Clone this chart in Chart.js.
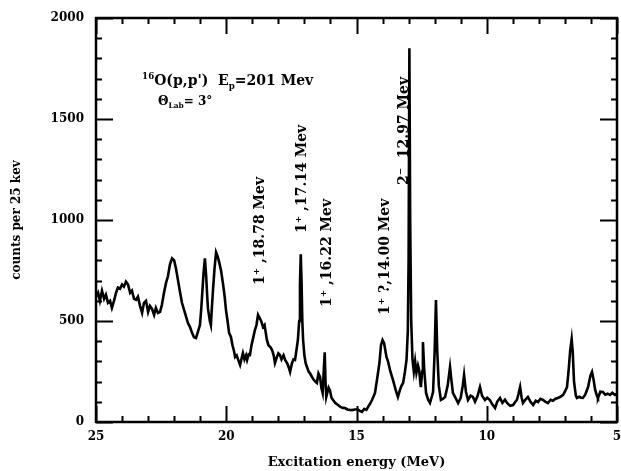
<!DOCTYPE html>
<html>
<head>
<meta charset="utf-8">
<script src="https://cdn.jsdelivr.net/npm/chart.js@4/dist/chart.umd.min.js"></script>
<style>
  html, body { margin: 0; padding: 0; background: #fff; }
  canvas { display: block; }
</style>
</head>
<body>
<canvas id="spec" width="621" height="471"></canvas>
<script>
// 16O(p,p') excitation spectrum, counts per 25 keV bin
const energies = [
  25.00,24.92,24.85,24.77,24.69,24.62,24.54,24.46,24.39,24.31,24.23,24.16,24.08,24.00,23.93,23.85,23.77,23.69,23.62,23.54,
  23.46,23.39,23.31,23.23,23.16,23.08,23.00,22.93,22.85,22.77,22.70,22.62,22.54,22.47,22.39,22.31,22.24,22.16,22.08,22.00,
  21.93,21.85,21.77,21.70,21.62,21.54,21.47,21.39,21.31,21.24,21.16,21.08,21.01,20.96,20.93,20.87,20.82,20.77,20.73,20.70,
  20.63,20.59,20.55,20.51,20.45,20.39,20.33,20.27,20.20,20.12,20.06,20.01,19.95,19.89,19.82,19.76,19.70,19.66,19.60,19.52,
  19.47,19.40,19.36,19.30,19.24,19.20,19.14,19.09,19.03,18.96,18.90,18.84,18.78,18.72,18.66,18.59,18.53,18.44,18.38,18.30,
  18.24,18.18,18.13,18.06,18.00,17.94,17.88,17.80,17.74,17.66,17.60,17.55,17.48,17.42,17.36,17.30,17.25,17.20,17.17,17.14,
  17.11,17.08,17.05,17.00,16.95,16.90,16.84,16.78,16.71,16.65,16.58,16.52,16.46,16.40,16.35,16.30,16.26,16.22,16.19,16.16,
  16.13,16.07,16.02,15.96,15.90,15.82,15.71,15.62,15.52,15.44,15.35,15.25,15.17,15.07,14.95,14.87,14.79,14.70,14.62,14.56,
  14.48,14.40,14.29,14.20,14.12,14.06,14.00,13.94,13.85,13.79,13.70,13.60,13.50,13.41,13.33,13.27,13.21,13.14,13.08,13.03,
  13.00,12.97,12.94,12.90,12.85,12.80,12.75,12.70,12.64,12.60,12.53,12.48,12.45,12.40,12.33,12.25,12.18,12.10,12.06,12.00,
  11.95,11.90,11.84,11.76,11.68,11.60,11.50,11.41,11.35,11.30,11.20,11.10,11.00,10.92,10.87,10.80,10.72,10.62,10.53,10.45,
  10.35,10.26,10.18,10.07,9.98,9.88,9.80,9.68,9.60,9.49,9.40,9.30,9.22,9.10,8.99,8.90,8.84,8.78,8.72,8.66,
  8.61,8.52,8.42,8.32,8.22,8.12,8.03,7.94,7.84,7.74,7.65,7.55,7.46,7.36,7.27,7.17,7.07,7.00,6.92,6.86,
  6.80,6.74,6.70,6.65,6.58,6.54,6.45,6.38,6.31,6.22,6.11,6.02,5.96,5.90,5.84,5.76,5.73,5.64,5.54,5.45,
  5.36,5.27,5.18,5.08,5.00
];
const counts = [
  620,640,600,650,610,630,590,600,565,600,640,665,660,680,670,695,680,640,650,610,
  605,620,575,540,590,600,545,575,560,530,565,540,545,580,640,690,720,780,810,800,
  760,700,640,590,555,520,490,470,440,420,416,450,480,560,620,740,810,720,620,560,
  500,480,570,650,760,840,820,790,750,680,620,554,500,440,421,380,350,322,330,300,
  282,320,341,310,330,307,335,332,380,420,455,480,530,515,500,470,480,406,380,370,
  356,330,292,320,340,332,310,330,307,290,270,248,290,310,307,360,406,500,680,830,
  700,500,406,330,290,272,250,240,223,210,200,193,240,223,170,144,250,345,200,124,
  140,170,158,120,109,95,84,75,70,69,62,60,59,62,62,55,50,65,60,74,
  90,110,144,220,292,380,406,390,322,300,250,208,160,124,160,180,193,250,307,450,
  800,1850,1000,500,307,250,300,243,280,260,173,250,396,260,144,110,94,130,150,350,
  604,350,180,109,115,124,180,272,200,144,120,94,120,180,233,150,109,130,124,100,
  130,173,130,109,120,109,90,69,100,119,95,110,94,80,84,100,110,140,173,120,
  94,110,124,100,84,105,99,115,109,100,94,110,105,115,119,125,134,150,173,250,
  350,410,350,200,130,119,125,120,119,135,173,230,248,210,160,125,119,150,149,135,
  140,134,145,134,140
];

// Axis labels
const xTickLabels = [25, 20, 15, 10, 5];
const yTickLabels = [0, 500, 1000, 1500, 2000];

// Level assignments written beside the peaks
const levelTexts = ["1\u207A ,18.78 Mev", "1\u207A ,17.14 Mev", "1\u207A ,16.22 Mev", "1\u207A ?,14.00 Mev", "2\u207B  12.97 Mev"];
const levelEnergies = [18.70, 17.09, 16.13, 13.91, 13.18];
const levelBaseCounts = [678, 936, 569, 530, 1173];

const FONT = "'DejaVu Serif'";

const points = energies.map((e, i) => ({ x: e, y: counts[i] }));

// Draws a run of text pieces, some raised or lowered, starting at (x, y)
function drawRich(ctx, x, y, pieces, size) {
  let cx = x;
  for (const p of pieces) {
    let s = size, dy = 0;
    if (p.s === 'sup') { s = size * 0.62; dy = -size * 0.42; }
    if (p.s === 'sub') { s = size * 0.62; dy = size * 0.28; }
    ctx.font = `bold ${s}px ${FONT}`;
    ctx.fillText(p.t, cx, y + dy);
    cx += ctx.measureText(p.t).width;
  }
}

const framePlugin = {
  id: 'frame',
  afterDraw(chart) {
    const { ctx, chartArea: a, scales: { x, y } } = chart;
    ctx.save();
    ctx.strokeStyle = '#000';
    ctx.fillStyle = '#000';
    ctx.lineWidth = 2;
    ctx.lineCap = 'butt';
    ctx.beginPath();
    for (let e = 5; e <= 25; e++) {
      const px = Math.round(x.getPixelForValue(e)) + 0.5;
      const len = e % 5 === 0 ? 16 : 6;
      ctx.moveTo(px, a.bottom); ctx.lineTo(px, a.bottom - len);
      ctx.moveTo(px, a.top); ctx.lineTo(px, a.top + len);
    }
    for (let c = 0; c <= 2000; c += 100) {
      const py = Math.round(y.getPixelForValue(c)) + 0.5;
      const len = c % 500 === 0 ? 17 : 6;
      ctx.moveTo(a.left, py); ctx.lineTo(a.left + len, py);
      ctx.moveTo(a.right, py); ctx.lineTo(a.right - len, py);
    }
    ctx.stroke();
    ctx.lineWidth = 2.5;
    ctx.strokeRect(a.left, a.top, a.right - a.left, a.bottom - a.top);

    // reaction header
    ctx.textAlign = 'left';
    ctx.textBaseline = 'alphabetic';
    drawRich(ctx, x.getPixelForValue(23.23), y.getPixelForValue(1668), [
      { t: '16', s: 'sup' }, { t: "O(p,p')  E" }, { t: 'p', s: 'sub' }, { t: '=201 Mev' }
    ], 14);
    drawRich(ctx, x.getPixelForValue(22.62), y.getPixelForValue(1569), [
      { t: '\u0398' }, { t: 'Lab', s: 'sub' }, { t: '= 3\u00B0' }
    ], 12);

    // level labels, reading upward
    ctx.font = `bold 14px ${FONT}`;
    ctx.textBaseline = 'middle';
    levelTexts.forEach((txt, i) => {
      ctx.save();
      ctx.translate(x.getPixelForValue(levelEnergies[i]), y.getPixelForValue(levelBaseCounts[i]));
      ctx.rotate(-Math.PI / 2);
      ctx.fillText(txt, 0, 0);
      ctx.restore();
    });
    ctx.restore();
  }
};

new Chart(document.getElementById('spec'), {
  type: 'line',
  data: {
    datasets: [{
      data: points,
      borderColor: '#000',
      borderWidth: 2.6,
      pointRadius: 0,
      tension: 0,
      fill: false
    }]
  },
  options: {
    responsive: false,
    animation: false,
    devicePixelRatio: 1,
    layout: { padding: { left: 0, right: 4, top: 18, bottom: 0 } },
    plugins: { legend: { display: false }, tooltip: { enabled: false } },
    scales: {
      x: {
        type: 'linear',
        reverse: true,
        min: 5, max: 25,
        grid: { display: false, drawTicks: false },
        border: { display: false },
        afterBuildTicks: s => { s.ticks = xTickLabels.map(v => ({ value: v })); },
        ticks: { color: '#000', padding: 8, maxRotation: 0, autoSkip: false, callback: v => String(v), font: { family: FONT, weight: 'bold', size: 12 } },
        title: { display: true, text: 'Excitation energy (MeV)', color: '#000', padding: { top: 0, bottom: 1 }, font: { family: FONT, weight: 'bold', size: 13 } },
        afterFit: s => { s.height = 49; s.paddingLeft = 0; s.paddingRight = 0; }
      },
      y: {
        min: 0, max: 2000,
        grid: { display: false, drawTicks: false },
        border: { display: false },
        afterBuildTicks: s => { s.ticks = yTickLabels.map(v => ({ value: v })); },
        ticks: { color: '#000', padding: 12, callback: v => String(v), font: { family: FONT, weight: 'bold', size: 12 } },
        title: { display: true, text: 'counts per 25 kev', color: '#000', padding: { top: 10, bottom: 0 }, font: { family: FONT, weight: 'bold', size: 12 } },
        afterFit: s => { s.width = 96; s.paddingTop = 0; s.paddingBottom = 0; }
      }
    }
  },
  plugins: [framePlugin]
});
</script>
</body>
</html>
